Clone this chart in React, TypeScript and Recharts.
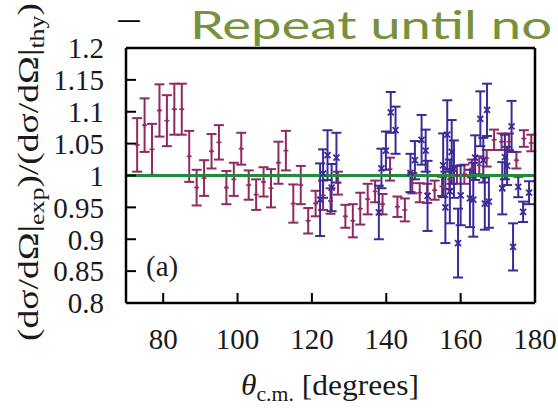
import { ErrorBar, ReferenceLine, Scatter, ScatterChart, XAxis, YAxis } from "recharts"

// red (magenta) data set, 2 degree bins
const redAngle = [
  73, 75, 77, 79, 81, 83, 85, 87, 89, 91, 93, 95, 97, 99, 101, 103, 105, 107, 109, 111,
  113, 115, 117, 119, 121, 123, 125, 127, 129, 131, 133, 135, 137, 139, 141, 143, 145, 147, 149, 151,
  153, 155, 157, 159, 161, 163, 165, 167, 169, 171, 173, 175, 177, 179,
]
const redRatio = [
  1.048, 1.079, 1.041, 1.102, 1.086, 1.104, 1.104, 1.03, 0.981, 0.996,
  1.038, 1.052, 0.981, 0.994, 1.042, 0.985, 0.97, 0.99, 0.98, 1.02,
  1.039, 0.956, 0.985, 0.929, 0.956, 0.969, 0.96, 0.988, 0.936, 0.929,
  0.948, 0.963, 0.975, 0.955, 1.01, 0.951, 0.946, 0.988, 0.973, 0.972,
  0.977, 0.983, 0.994, 1.001, 1.002, 1.011, 1.016, 1.027, 1.056, 1.053,
  1.053, 1.024, 1.058, 1.051,
]
const redError = [
  0.042, 0.042, 0.04, 0.041, 0.04, 0.04, 0.04, 0.04, 0.028, 0.028,
  0.027, 0.027, 0.026, 0.026, 0.025, 0.023, 0.024, 0.023, 0.03, 0.033,
  0.031, 0.03, 0.03, 0.02, 0.02, 0.023, 0.02, 0.018, 0.018, 0.026,
  0.025, 0.024, 0.017, 0.016, 0.018, 0.016, 0.018, 0.016, 0.015, 0.015,
  0.015, 0.015, 0.015, 0.014, 0.015, 0.014, 0.014, 0.013, 0.016, 0.013,
  0.013, 0.013, 0.013, 0.013,
]

// blue data set
const blueAngle = [
  122.2, 123.0, 124.2, 125.3, 126.6, 138.0, 138.7, 139.9, 141.2, 142.5,
  146.5, 147.7, 149.5, 150.6, 151.1, 155.3, 155.9, 156.4, 157.1, 157.6,
  158.2, 159.3, 160.0, 162.5, 163.4, 163.9, 165.3, 166.1, 166.5, 167.1,
  167.6, 171.2, 171.9, 172.5, 173.7, 174.1, 175.5, 176.8, 178.4,
]
const blueRatio = [
  0.962, 1.003, 1.032, 0.981, 1.028, 0.942, 1.011, 1.039, 1.099, 1.071,
  1.004, 1.024, 1.056, 1.039, 0.968, 1.016, 0.95, 1.064, 0.975, 1.037,
  1.01, 0.894, 0.969, 0.964, 0.962, 1.028, 1.089, 1.024, 0.956, 1.103,
  0.959, 0.98, 1.029, 1.015, 1.077, 0.888, 0.982, 0.943, 0.973,
]
const blueError = [
  0.057, 0.038, 0.039, 0.037, 0.039, 0.042, 0.031, 0.03, 0.032, 0.037,
  0.03, 0.03, 0.039, 0.033, 0.055, 0.05, 0.056, 0.054, 0.05, 0.05,
  0.045, 0.054, 0.047, 0.045, 0.058, 0.035, 0.043, 0.035, 0.041, 0.041,
  0.041, 0.041, 0.035, 0.03, 0.04, 0.037, 0.016, 0.016, 0.018,
]

const xTicks = [80, 100, 120, 140, 160, 180]
const yTicks = [0.8, 0.85, 0.9, 0.95, 1, 1.05, 1.1, 1.15, 1.2]
const yTickLabels = ["0.8", "0.85", "0.9", "0.95", "1", "1.05", "1.1", "1.15", "1.2"]

const RED = "#8f2a62"
const BLUE = "#3b2b98"
const GREEN = "#228b3b"
const SERIF = "Liberation Serif, DejaVu Serif, serif"
const SANS = "Lato, Open Sans, sans-serif"

const redData = redAngle.map((x, i) => ({ x, y: redRatio[i], err: redError[i] }))
const blueData = blueAngle.map((x, i) => ({ x, y: blueRatio[i], err: blueError[i] }))

const PlusMark = (props: any) => {
  const { cx, cy } = props
  return (
    <g stroke={RED} strokeWidth={1.6}>
      <line x1={cx - 2.5} y1={cy} x2={cx + 2.5} y2={cy} />
      <line x1={cx} y1={cy - 2.5} x2={cx} y2={cy + 2.5} />
    </g>
  )
}

const CrossMark = (props: any) => {
  const { cx, cy } = props
  return (
    <g stroke={BLUE} strokeWidth={1.8}>
      <line x1={cx - 3} y1={cy - 3} x2={cx + 3} y2={cy + 3} />
      <line x1={cx - 3} y1={cy + 3} x2={cx + 3} y2={cy - 3} />
    </g>
  )
}

const axisLine = { stroke: "#000", strokeWidth: 2.5 }
const tickLine = { stroke: "#000", strokeWidth: 2 }
const tickFont = { fill: "#1a1a1a", fontSize: 29, style: { fontFamily: SERIF } }

export default function App() {
  return (
    <div style={{ position: "absolute", left: 0, top: 0, width: 558, height: 410, background: "#fff", fontFamily: SERIF }}>
      <ScatterChart width={558} height={410} margin={{ top: 48, right: 23, bottom: 0, left: 0 }} style={{ fontFamily: SERIF }}>
        <XAxis
          type="number"
          dataKey="x"
          domain={[70, 180]}
          ticks={xTicks}
          interval={0}
          height={107}
          tickSize={-10}
          tickMargin={35}
          axisLine={axisLine}
          tickLine={tickLine}
          tick={tickFont}
          allowDataOverflow
        />
        <XAxis
          xAxisId="top"
          orientation="top"
          mirror
          type="number"
          domain={[70, 180]}
          ticks={xTicks}
          interval={0}
          tickSize={10}
          axisLine={axisLine}
          tickLine={tickLine}
          tick={false}
        />
        <YAxis
          type="number"
          dataKey="y"
          domain={[0.8, 1.2]}
          ticks={yTicks}
          interval={0}
          width={126}
          tickSize={-10}
          tickMargin={32}
          axisLine={axisLine}
          tickLine={tickLine}
          tick={tickFont}
          tickFormatter={(v: number) => yTickLabels[yTicks.indexOf(v)] ?? String(v)}
          allowDataOverflow
        />
        <YAxis
          yAxisId="right"
          orientation="right"
          mirror
          type="number"
          domain={[0.8, 1.2]}
          ticks={yTicks}
          interval={0}
          tickSize={10}
          axisLine={axisLine}
          tickLine={tickLine}
          tick={false}
        />
        <Scatter data={redData} dataKey="y" shape={PlusMark} isAnimationActive={false}>
          <ErrorBar dataKey="err" direction="y" width={5} stroke={RED} strokeWidth={2} isAnimationActive={false} />
        </Scatter>
        <Scatter data={blueData} dataKey="y" shape={CrossMark} isAnimationActive={false}>
          <ErrorBar dataKey="err" direction="y" width={5} stroke={BLUE} strokeWidth={2} isAnimationActive={false} />
        </Scatter>
        <ReferenceLine y={1} stroke={GREEN} strokeWidth={3} />
      </ScatterChart>
      <svg
        width={558}
        height={410}
        style={{ position: "absolute", left: 0, top: 0, pointerEvents: "none", fontFamily: SERIF }}
      >
        <text
          x={38}
          y={172}
          transform="rotate(-90 38 172)"
          textAnchor="middle"
          style={{ fontFamily: SERIF }}
          fontSize={29}
          fill="#1a1a1a"
          textLength={338}
          lengthAdjust="spacingAndGlyphs"
        >
          (dσ/dΩ|<tspan fontSize={20} dy={6}>exp</tspan>
          <tspan dy={-6}>)/(dσ/dΩ|</tspan>
          <tspan fontSize={20} dy={6}>thy</tspan>
          <tspan dy={-6}>)</tspan>
        </text>
        <text
          x={330}
          y={395}
          textAnchor="middle"
          style={{ fontFamily: SERIF }}
          fontSize={29}
          fill="#1a1a1a"
          textLength={178}
          lengthAdjust="spacingAndGlyphs"
        >
          <tspan fontStyle="italic">θ</tspan>
          <tspan fontSize={20} dy={6}>c.m.</tspan>
          <tspan dy={-6}> [degrees]</tspan>
        </text>
        <text x={146} y={276} style={{ fontFamily: SERIF }} fontSize={29} fill="#1a1a1a">
          (a)
        </text>
        <text x={116} y={29} style={{ fontFamily: SANS }} fontSize={26} fill="#000" textLength={26} lengthAdjust="spacingAndGlyphs">
          —
        </text>
        <text
          x={190}
          y={39}
          style={{ fontFamily: SANS }}
          fontSize={39}
          fill="#76923c"
          textLength={362}
          lengthAdjust="spacingAndGlyphs"
        >
          Repeat until no
        </text>
      </svg>
    </div>
  )
}
